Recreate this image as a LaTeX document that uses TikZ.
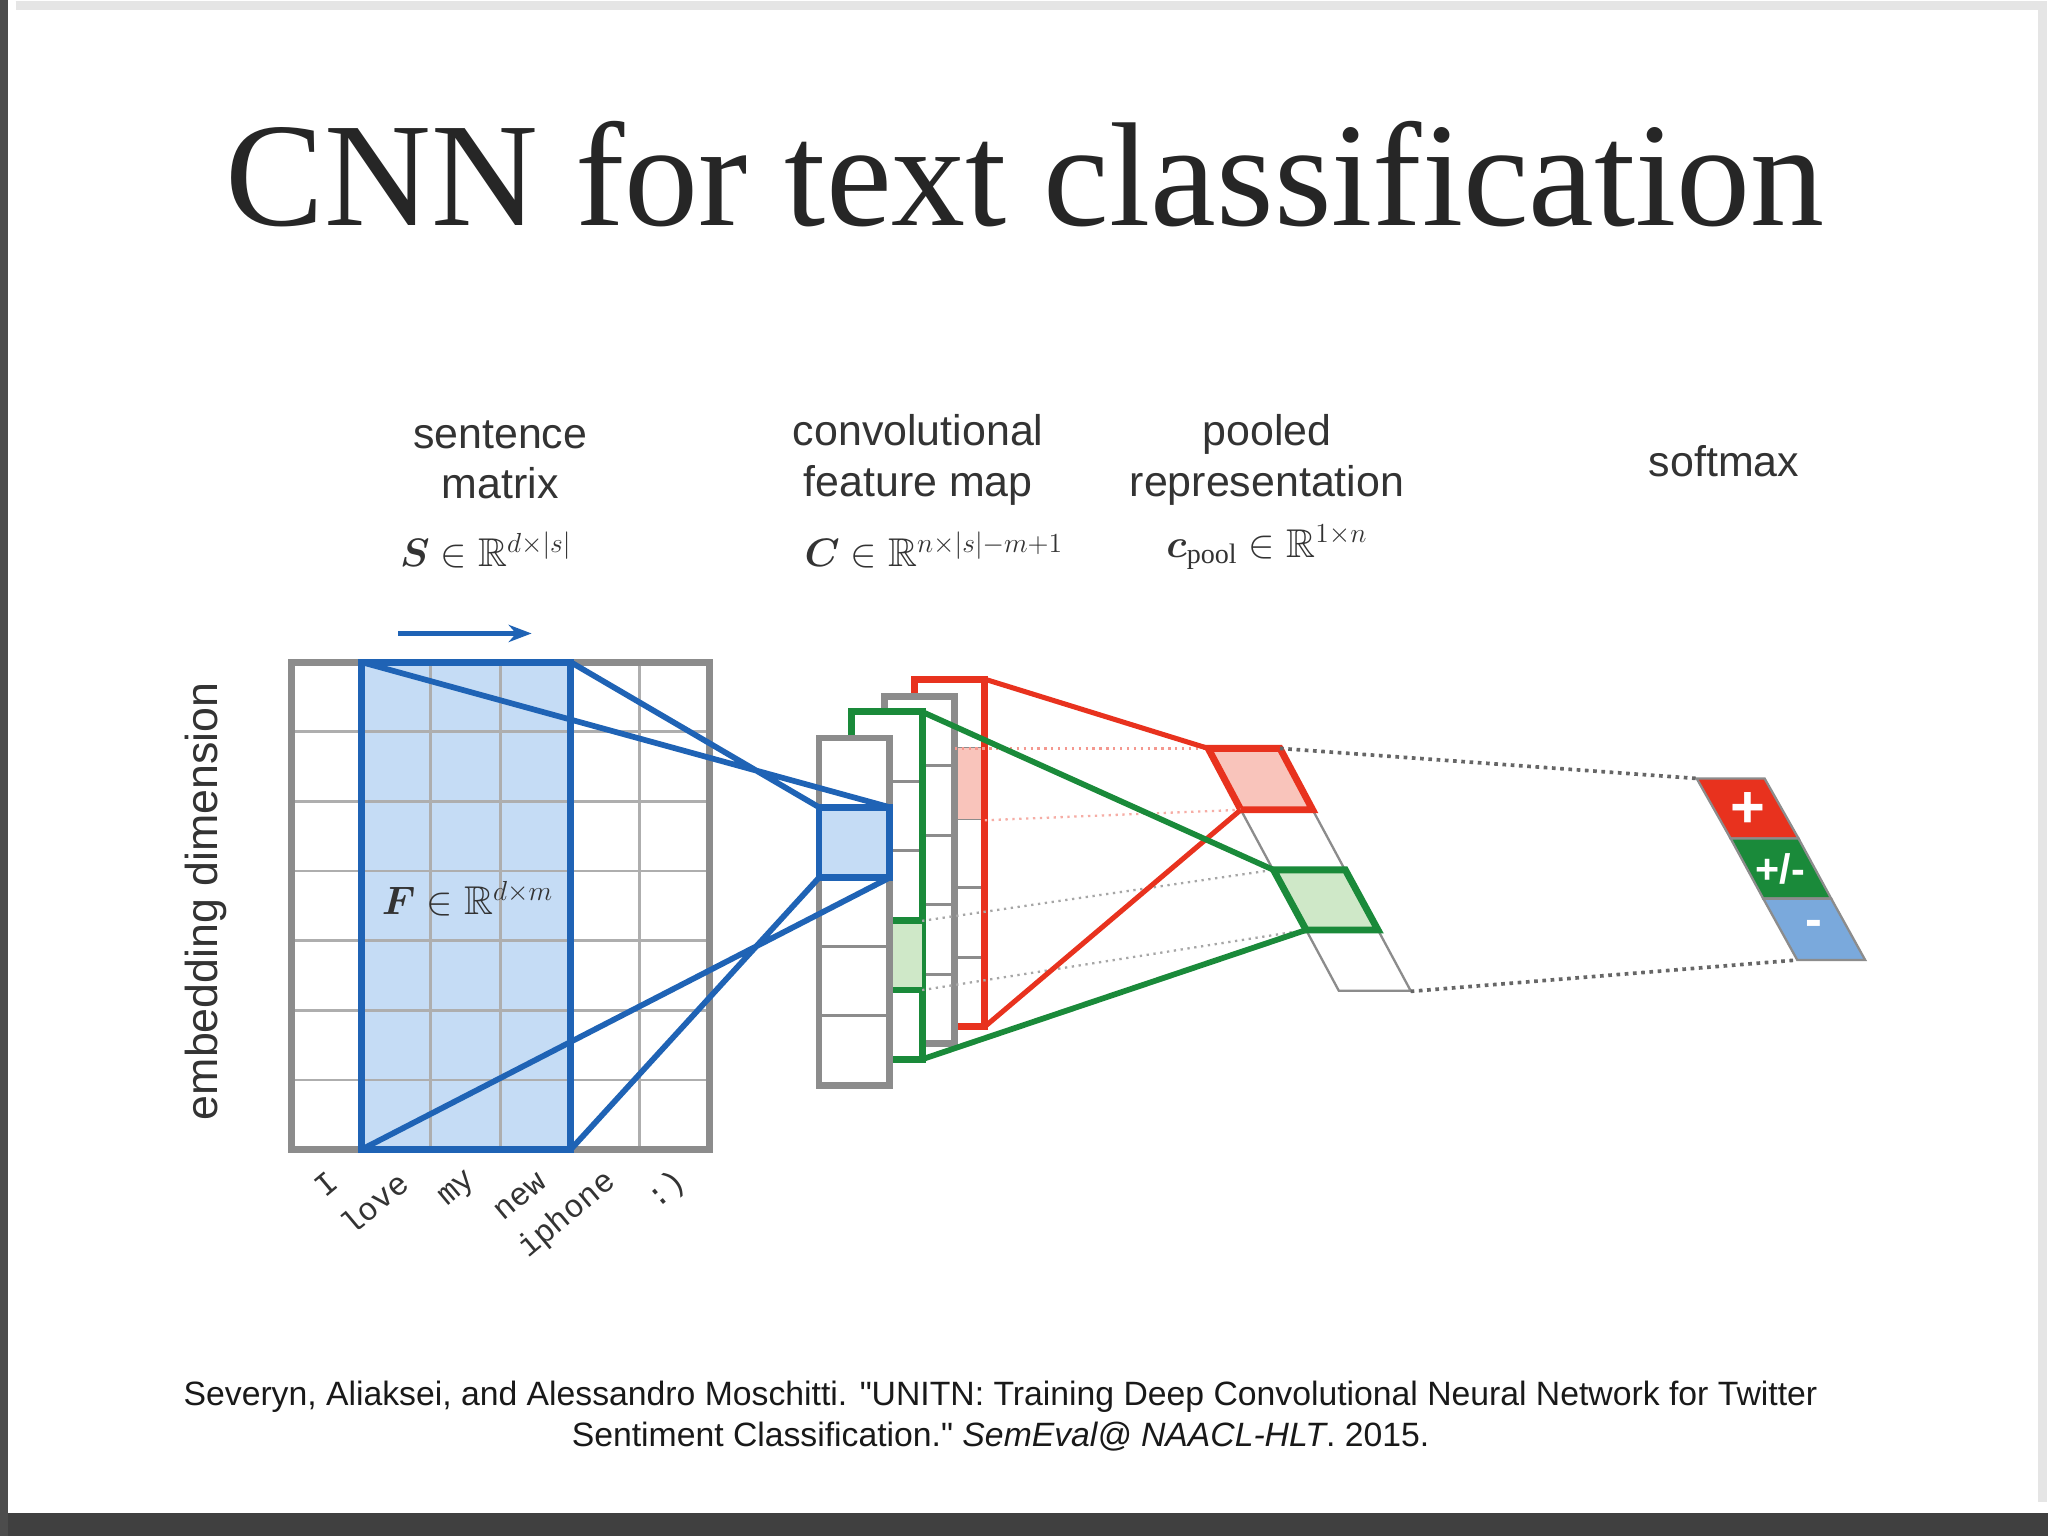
\documentclass[tikz,border=0pt]{standalone}
\usepackage{amsmath,amssymb,bm}
\usepackage{fontspec}
\setmainfont{Liberation Serif}
\setsansfont{Liberation Sans}
\setmonofont{Liberation Mono}
\newfontfamily\citefont[Ligatures=TeXOff]{Liberation Sans}
\usetikzlibrary{arrows.meta}
\definecolor{cblue}{HTML}{1F63B5}
\definecolor{lblue}{HTML}{C5DCF5}
\definecolor{cred}{HTML}{E8321E}
\definecolor{lred}{HTML}{F9C4BB}
\definecolor{cgreen}{HTML}{1A8A3A}
\definecolor{lgreen}{HTML}{CFE8C8}
\definecolor{cgray}{HTML}{8C8C8C}
\definecolor{sblue}{HTML}{7AA9DC}
\begin{document}
\begin{tikzpicture}[x=0.02cm,y=-0.02cm,
  lbl/.style={font=\sffamily\fontsize{18.7}{22}\selectfont,text=black!80,align=center},
  mth/.style={font=\fontsize{17.5}{20}\selectfont,text=black!80},
  word/.style={font=\ttfamily\fontsize{14}{17}\selectfont,rotate=40,anchor=east,text=black!80},
  dots/.style={dotted,line width=1.6pt,black!60},
  fdots/.style={dotted,line width=1pt}]
\useasboundingbox (0,0) rectangle (1568,1176);
\fill[white] (0,0) rectangle (1568,1176);
\fill[black!75] (0,1158) rectangle (1568,1176);
\fill[black!70] (0,0) rectangle (6,1176);
\draw[black!10,line width=4pt] (12,4) -- (1564,4) -- (1564,1150);
% title
\node[font=\fontsize{64.5}{70}\selectfont,text=black!85] (title) at (785,133) {CNN for text classification};
% header labels
\node[lbl] (l1) at (383,352) {sentence\\matrix};
\node[lbl] (l2) at (703,352) {convolutional\\feature map};
\node[lbl] (l3) at (970,352) {pooled\\representation};
\node[lbl] (l4) at (1320,353) {softmax};
\node[mth] (m1) at (372,421) {$\bm{S}\in\mathbb{R}^{d\times|s|}$};
\node[mth] (m2) at (715,421) {$\bm{C}\in\mathbb{R}^{n\times|s|-m+1}$};
\node[mth] (m3) at (970,419) {$\bm{c}_{\mathrm{pool}}\in\mathbb{R}^{1\times n}$};
\node[lbl,rotate=90,font=\sffamily\fontsize{19.5}{22}\selectfont] (emb) at (158,690) {embedding dimension};
% sentence matrix
\fill[lblue] (277,507) rectangle (437,880);
\foreach \i in {1,...,5} \draw[cgray!70,line width=1.2pt] (223+53.33*\i,507) -- (223+53.33*\i,880);
\foreach \j in {1,...,6} \draw[cgray!70,line width=1.2pt] (223,507+53.3*\j) -- (543,507+53.3*\j);
\draw[cgray,line width=3pt] (223,507) rectangle (543,880);
\draw[cblue,line width=3pt] (277,507) rectangle (437,880);
\coordinate (fa) at (277,507); \coordinate (fb) at (437,507);
\coordinate (fc) at (277,880); \coordinate (fd) at (437,880);
\node[mth,font=\fontsize{17.5}{20}\selectfont] (F) at (358,688) {$\bm{F}\in\mathbb{R}^{d\times m}$};
\coordinate (ar1) at (305,485); \coordinate (ar2) at (407,485);
\draw[cblue,line width=2.5pt,-{Stealth[length=10pt]}] (ar1) -- (ar2);
% words
\foreach \w/\x in {I/260,love/314,my/367,new/420,iphone/473,:)/527}
  \node[word] (w\w) at (\x,898) {\w};
% columns (back to front)
\newcommand{\fcol}[3]{%
  \fill[white] (#1,#2) rectangle ++(54,266);
  \foreach \k in {1,...,4} \draw[cgray,line width=1.3pt] (#1,#2+53.2*\k) -- ++(54,0);
  \draw[#3,line width=3pt] (#1,#2) rectangle ++(54,266);}
\fcol{700}{520}{cred}
\fill[lred] (700,573) rectangle (753,627);
\draw[cred,line width=3pt] (700,520) rectangle (754,786);
\fcol{677}{533}{cgray}
\fcol{652}{545}{cgreen}
\fill[lgreen] (652,705) rectangle (706,758);
\draw[cgreen,line width=3pt] (652,705) -- (706,705) (652,758) -- (706,758);
\fcol{627}{565}{cgray}
% blue box
\fill[lblue] (627,618) rectangle (681,672);
\draw[cblue,line width=3pt] (627,618) rectangle (681,672);
\coordinate (ba) at (627,618); \coordinate (bb) at (681,618);
\coordinate (bc) at (627,672); \coordinate (bd) at (681,672);
\draw[cblue,line width=2.5pt] (fa) -- (bb) (fb) -- (ba) (fc) -- (bd) (fd) -- (bc);
% pooled
\foreach \i/\y/\xl in {0/573/925,1/620/950,2/666/975,3/712/1000}{
  \pgfmathsetmacro{\xn}{\xl+25}
  \pgfmathsetmacro{\yn}{\y+46.5}
  \draw[cgray,line width=1pt] (\xl,\y) -- ++(55,0) -- (\xn+55,\yn) -- (\xn,\yn) -- cycle;}
\draw[cred,line width=3pt,fill=lred] (925,573) -- (980,573) -- (1005,620) -- (950,620) -- cycle;
\draw[cgreen,line width=3pt,fill=lgreen] (975,666) -- (1030,666) -- (1055,712) -- (1000,712) -- cycle;
\coordinate (pa) at (925,573); \coordinate (pb) at (950,620);
\coordinate (pc) at (975,666); \coordinate (pd) at (1000,712);
\coordinate (ptr) at (980,573); \coordinate (pbr) at (1080,759);
% connectors
\draw[fdots,cred!50] (731,573) -- (pa);
\draw[fdots,cred!40] (754,628) -- (pb);
\draw[fdots,black!35] (706,705) -- (pc);
\draw[fdots,black!35] (706,758) -- (pd);
\draw[cred,line width=2.2pt] (754,520) -- (pa) (754,786) -- (pb);
\draw[cgreen,line width=2.5pt] (706,545) -- (pc) (706,811) -- (pd);
% softmax
\coordinate (sa) at (1299,596); \coordinate (sb) at (1376,735);
\draw[cgray,line width=1pt,fill=cred] (1299,596) -- (1351,596) -- (1377,642) -- (1325,642) -- cycle;
\draw[cgray,line width=1pt,fill=cgreen] (1325,642) -- (1377,642) -- (1402,688) -- (1350,688) -- cycle;
\draw[cgray,line width=1pt,fill=sblue] (1350,688) -- (1402,688) -- (1428,735) -- (1376,735) -- cycle;
\node[font=\sffamily\bfseries\fontsize{26}{28}\selectfont,text=white] (sp) at (1338,620) {+};
\node[font=\sffamily\bfseries\fontsize{18}{20}\selectfont,text=white] (spm) at (1363,665) {+/-};
\node[font=\sffamily\bfseries\fontsize{22}{24}\selectfont,text=white] (sm) at (1389,711) {-};
\draw[dots] (ptr) -- (sa);
\draw[dots] (pbr) -- (sb);
% citation
\node[font=\citefont\fontsize{14.7}{18}\selectfont,align=center,text=black!90] (cite) at (766,1084)
 {Severyn, Aliaksei, and Alessandro Moschitti. "UNITN: Training Deep Convolutional Neural Network for Twitter\\
  Sentiment Classification." \textit{SemEval@ NAACL-HLT}. 2015.};
\end{tikzpicture}
\end{document}
